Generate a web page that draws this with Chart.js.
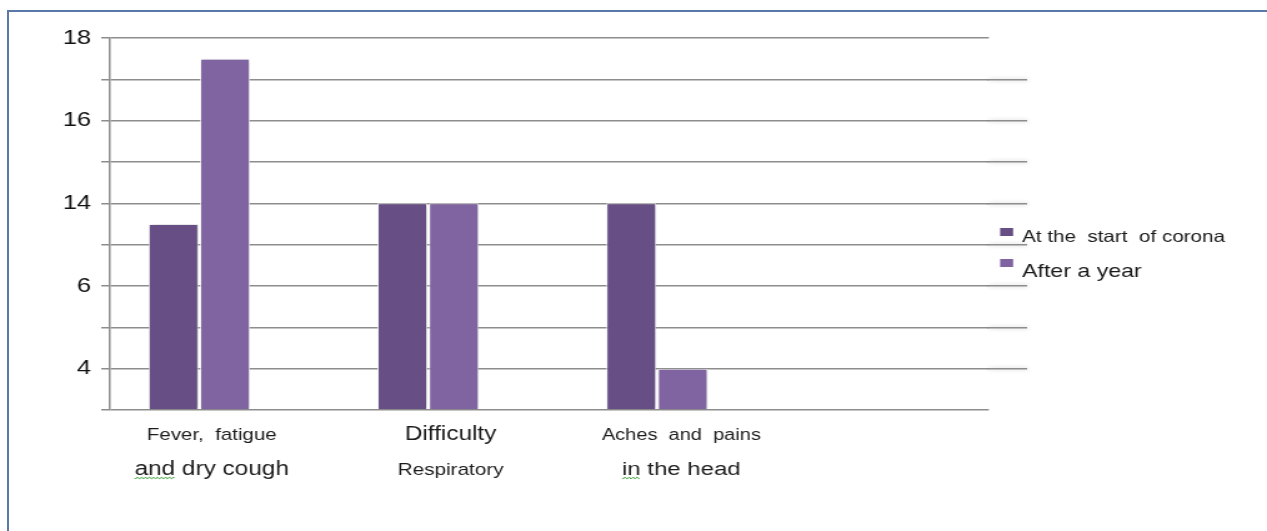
<!DOCTYPE html>
<html>
<head>
<meta charset="utf-8">
<title>Symptoms: at the start of corona and after a year</title>
<script src="https://cdn.jsdelivr.net/npm/chart.js@4.4.1/dist/chart.umd.min.js"></script>
<style>
  html, body { margin: 0; padding: 0; background: #ffffff; overflow: hidden; }
  #wrap { position: relative; width: 1267px; height: 531px; }
  #c { position: absolute; left: 0; top: 0; }
  #frame {
    position: absolute; left: 7px; top: 10px; right: 0; bottom: 0;
    border-top: 2px solid #5a78a8; border-left: 2px solid #5a78a8;
    pointer-events: none;
  }
</style>
</head>
<body>
<div id="wrap">
  <!-- drawn at 1014 px wide and shown at 1267 px, giving the wide lettering -->
  <canvas id="c" width="1014" height="531" style="width:1267px;height:531px"></canvas>
  <div id="frame"></div>
</div>
<script>
// Symptom groups, one entry per label line
const categories = [
  ['Fever,  fatigue', 'and dry cough'],
  ['Difficulty', 'Respiratory'],
  ['Aches  and  pains', 'in the head']
];
const seriesNames = ['At the  start  of corona', 'After a year'];

// Bar heights, in steps of the value axis (one step per gridline)
const atStart   = [4.5, 5, 5];
const afterYear = [8.5, 5, 1];

// Labels written against the gridlines, from the baseline upwards
const yTickLabels = ['', '4', '', '6', '', '14', '', '16', '', '18'];

const FONT = '"Liberation Sans", Arial, sans-serif';
const colors = ['#674f86', '#8064a2'];
const lineFonts = [[16.4, 19.5], [19.5, 16.6], [16, 19.2]];
const captionShift = [10, 18, 19.5];
const legendFonts = [16.5, 18.5];
const squiggled = { 0: 'and', 2: 'in' };

// same half-pixel snapping Chart.js uses for its own grid
const snap = (p, w) => Math.round(p - w / 2) + w / 2;

// soft drop shadow around the bars
const barShadow = {
  id: 'barShadow',
  beforeDatasetsDraw(chart) {
    const ctx = chart.ctx;
    ctx.save();
    ctx.shadowColor = 'rgba(0,0,0,0.22)';
    ctx.shadowBlur = 4;
    ctx.shadowOffsetX = 1;
    ctx.shadowOffsetY = 0;
  },
  afterDatasetsDraw(chart) { chart.ctx.restore(); }
};

// the inner gridlines run a little past the plot area
const gridTails = {
  id: 'gridTails',
  beforeDatasetsDraw(chart) {
    const { ctx, chartArea, scales: { y } } = chart;
    ctx.save();
    ctx.strokeStyle = '#8d8d8d';
    ctx.lineWidth = 1.5;
    for (let v = 1; v < yTickLabels.length - 1; v++) {
      const py = snap(y.getPixelForValue(v), 1.5);
      ctx.beginPath();
      ctx.moveTo(chartArea.right - 1, py);
      ctx.lineTo(chartArea.right + 30.6, py);
      ctx.stroke();
    }
    ctx.restore();
  }
};

// two-line category captions under the bars
const categoryCaptions = {
  id: 'categoryCaptions',
  afterDraw(chart) {
    const { ctx, chartArea, scales: { x } } = chart;
    ctx.save();
    ctx.fillStyle = '#1c1c1c';
    ctx.textAlign = 'center';
    ctx.textBaseline = 'alphabetic';
    const baselines = [30, 65];
    categories.forEach((lines, i) => {
      const cx = x.getPixelForValue(i) + captionShift[i];
      lines.forEach((t, j) => {
        ctx.font = `${lineFonts[i][j]}px ${FONT}`;
        const by = chartArea.bottom + baselines[j];
        ctx.fillText(t, cx, by);
        if (j === 1 && squiggled[i]) {
          const w = ctx.measureText(t).width;
          const ww = ctx.measureText(squiggled[i]).width;
          const x0 = cx - w / 2;
          ctx.save();
          ctx.strokeStyle = '#3fa33f';
          ctx.lineWidth = 0.9;
          ctx.beginPath();
          for (let k = 0; k <= ww; k += 1) {
            const yy = by + 3 + Math.sin(k * Math.PI / 1.6) * 1.1;
            if (k === 0) ctx.moveTo(x0 + k, yy); else ctx.lineTo(x0 + k, yy);
          }
          ctx.stroke();
          ctx.restore();
        }
      });
    });
    ctx.restore();
  }
};

// key on the right-hand side
const sideKey = {
  id: 'sideKey',
  afterDraw(chart) {
    const { ctx, chartArea } = chart;
    ctx.save();
    const lx = chartArea.right + 9;
    const rows = [{ boxTop: 228, base: 242 }, { boxTop: 259, base: 277 }];
    seriesNames.forEach((name, i) => {
      ctx.fillStyle = colors[i];
      ctx.fillRect(lx, rows[i].boxTop, 10.4, 8);
      ctx.fillStyle = '#1a1a1a';
      ctx.font = `${legendFonts[i]}px ${FONT}`;
      ctx.textAlign = 'left';
      ctx.textBaseline = 'alphabetic';
      ctx.fillText(name, lx + 17.6, rows[i].base);
    });
    ctx.restore();
  }
};

const toPoints = arr => arr.map((v, i) => ({ x: i, y: v }));

new Chart(document.getElementById('c'), {
  type: 'bar',
  data: {
    datasets: [
      {
        label: seriesNames[0],
        data: toPoints(atStart),
        backgroundColor: colors[0],
        borderColor: 'rgba(255,255,255,0.85)',
        borderWidth: 1,
        categoryPercentage: 0.45,
        barPercentage: 0.97
      },
      {
        label: seriesNames[1],
        data: toPoints(afterYear),
        backgroundColor: colors[1],
        borderColor: 'rgba(255,255,255,0.85)',
        borderWidth: 1,
        categoryPercentage: 0.45,
        barPercentage: 0.97
      }
    ]
  },
  options: {
    responsive: false,
    devicePixelRatio: 1,
    animation: false,
    layout: { padding: { top: 38, right: 222.6, bottom: 121, left: 0 } },
    plugins: {
      legend: { display: false },
      tooltip: { enabled: false }
    },
    scales: {
      x: {
        type: 'linear',
        display: false,
        min: -0.39,
        max: 3.45,
        offset: false,
        ticks: { stepSize: 1, includeBounds: false },
        grid: { display: false }
      },
      y: {
        min: 0,
        max: yTickLabels.length - 1,
        afterFit(scale) { scale.width = 88; },
        ticks: {
          stepSize: 1,
          autoSkip: false,
          padding: 8,
          color: '#111111',
          font: { family: FONT, size: 20.5 },
          callback: v => yTickLabels[v]
        },
        grid: { color: '#8d8d8d', lineWidth: 1.5, tickLength: 7, drawTicks: true },
        border: { display: true, color: '#8d8d8d', width: 1.5 }
      }
    }
  },
  plugins: [barShadow, gridTails, categoryCaptions, sideKey]
});
</script>
</body>
</html>
